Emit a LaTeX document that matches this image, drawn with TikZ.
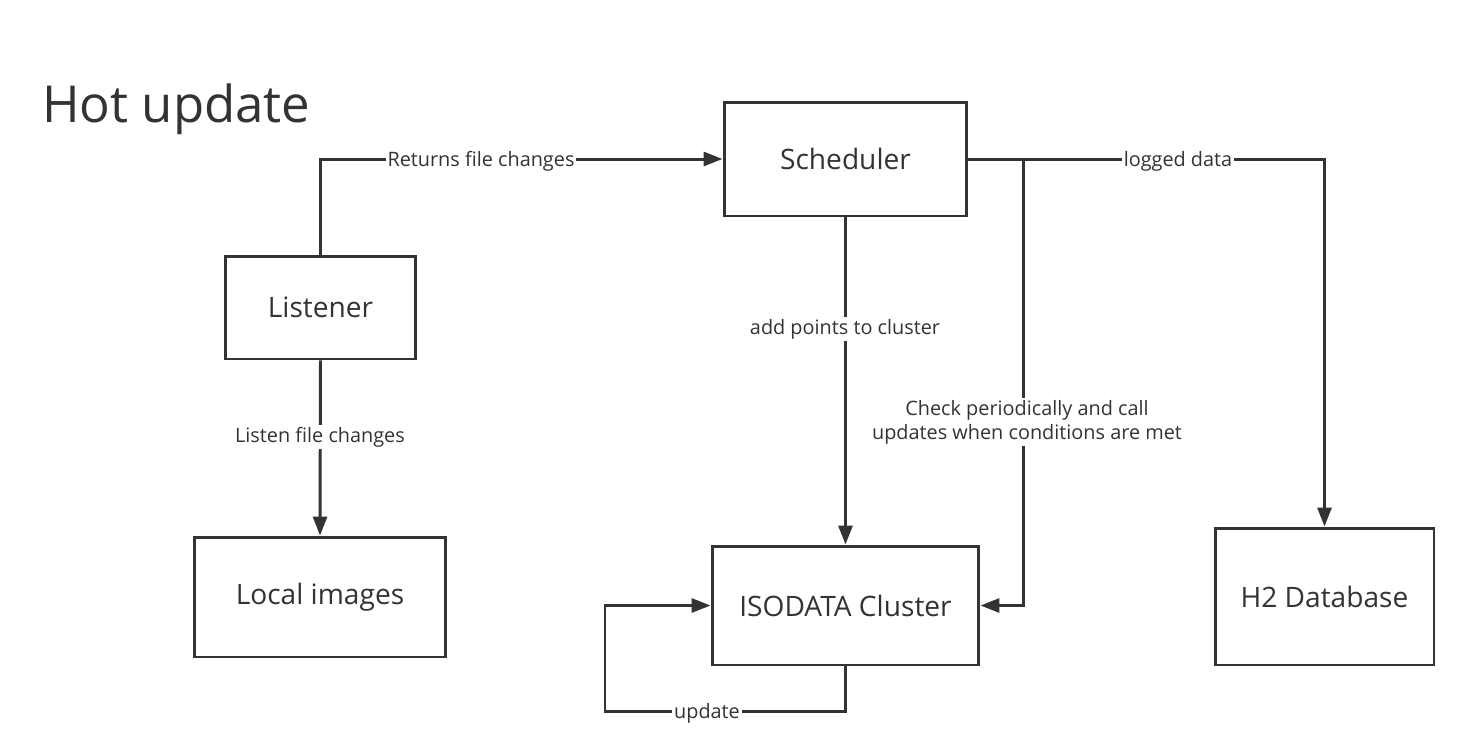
\documentclass[tikz,border=0pt]{standalone}
\usepackage{fontspec}
\setmainfont{Open Sans}
\usepackage{xcolor}
\usetikzlibrary{arrows.meta}
\definecolor{ink}{HTML}{333333}
\tikzset{
  box/.style={draw=ink, line width=1.7pt, text=ink, font=\fontsize{16}{19}\selectfont, inner sep=0pt},
  link/.style={draw=ink, line width=1.7pt, -{Triangle[length=0.38cm, width=0.28cm]}},
  lbl/.style={fill=white, text=ink, font=\fontsize{11.3}{13.5}\selectfont, inner sep=1pt}
}
\begin{document}
\begin{tikzpicture}[x=0.02cm, y=-0.02cm]
			% Khung
			\useasboundingbox (0,0) rectangle (1471,748);
			\node[text=ink, font=\fontsize{29}{35}\selectfont, anchor=west] (title) at (36,109) {Hot update};
			% Vẽ các khối
			\node[box, minimum width=4.86cm, minimum height=2.28cm] (sched) at (845.5,159) {Scheduler};
			\node[box, minimum width=3.82cm, minimum height=2.06cm] (listen) at (320.5,307.5) {Listener};
			\node[box, minimum width=5.04cm, minimum height=2.40cm] (local) at (320,597) {Local images};
			\node[box, minimum width=5.34cm, minimum height=2.38cm] (iso) at (845.5,605.5) {ISODATA Cluster};
			\node[box, minimum width=4.38cm, minimum height=2.74cm] (db) at (1324.5,596.5) {H2 Database};
			% Vẽ mũi tên
			\coordinate (split) at (1023,159);
			\coordinate (loop) at (605,711);
			\draw[link] (listen.north) |- (sched.west);
			\draw[link] (listen.south) -- (local.north);
			\draw[link] (sched.south) -- (iso.north);
			\draw[link] (sched.east) -| (db.north);
			\draw[link] (split) |- (iso.east);
			\draw[link] (iso.south) |- (loop) |- (iso.west);
			% Nhãn
			\node[lbl] (l1) at (481,161) {Returns file changes};
			\node[lbl] (l2) at (320,437) {Listen file changes};
			\node[lbl] (l3) at (845,329) {add points to cluster};
			\node[lbl] (l4) at (1178,161) {logged data};
			\node[lbl, align=center] (l5) at (1027,422) {Check periodically and call\\updates when conditions are met};
			\node[lbl] (l6) at (707,713) {update};
		\end{tikzpicture}
\end{document}
